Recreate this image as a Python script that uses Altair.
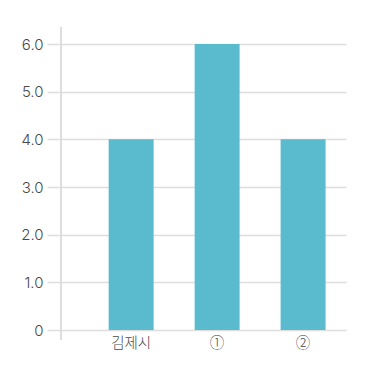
import altair as alt
import pandas as pd

categories = ["김제시", "①", "②"]
values = [4.0, 6.0, 4.0]

df = pd.DataFrame({"cat": categories, "val": values})

XFONT = "Noto Sans CJK KR"
YFONT = "Inter, Noto Sans CJK KR"
GRID = "#dddddd"

bars = alt.Chart(df).mark_bar(color="#59bbcd").encode(
    x=alt.X("cat:N", sort=categories,
            scale=alt.Scale(paddingInner=0.477, paddingOuter=0.396, align=0.7),
            axis=alt.Axis(title=None, domain=False, ticks=False, labelAngle=0,
                          labelFont=XFONT, labelFontSize=14.5, labelColor="#4a4a4a",
                          labelFontWeight=300, labelPadding=6)),
    y=alt.Y("val:Q", scale=alt.Scale(domain=[0, 6]),
            axis=alt.Axis(title=None, values=[0, 1, 2, 3, 4, 5, 6],
                          labelExpr="datum.value == 0 ? '0' : format(datum.value, '.1f')",
                          domain=False, ticks=True, tickSize=14, tickColor=GRID,
                          tickWidth=1.5, grid=True, gridColor=GRID, gridWidth=1.5,
                          labelFont=YFONT, labelFontSize=15, labelColor="#4a4a4a",
                          labelFontWeight=300, labelPadding=4)),
)

vline = alt.Chart(df).mark_rule(color=GRID, strokeWidth=1.5).encode(
    x=alt.value(0), y=alt.value(-17), y2=alt.value(296)
)

chart = alt.layer(vline, bars).properties(
    width=285, height=286,
    autosize=alt.AutoSizeParams(type="none"),
    padding={"left": 61, "top": 44, "right": 24, "bottom": 40},
).configure_view(stroke=None)

chart.save("out.html", embed_options={"renderer": "svg", "actions": False})
